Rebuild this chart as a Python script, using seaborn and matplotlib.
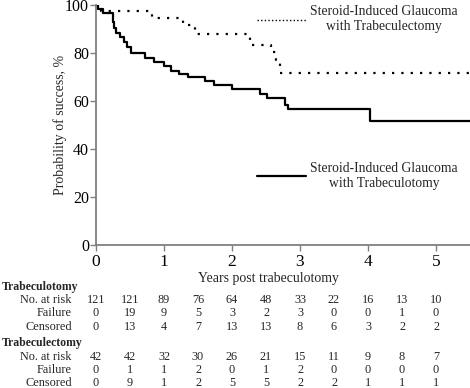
import matplotlib
matplotlib.use("Agg")
import matplotlib.pyplot as plt
import matplotlib.transforms as mtransforms
from matplotlib.lines import Line2D
import seaborn as sns
import pandas as pd

# Kaplan-Meier step curves
otomy_years = [0, 0.03, 0.10, 0.25, 0.27, 0.30, 0.36, 0.41, 0.46, 0.52, 0.72, 0.85, 1.00, 1.10,
               1.22, 1.36, 1.60, 1.74, 2.00, 2.41, 2.51, 2.78, 2.82, 4.03, 5.50]
otomy_success = [100, 98.3, 96.8, 93.0, 90.5, 88.5, 86.8, 84.5, 82.5, 80.0, 77.8, 76.4, 74.5, 72.6,
                 71.3, 70.1, 68.2, 66.7, 64.8, 62.8, 61.1, 58.3, 56.5, 51.8, 51.8]

ectomy_years = [0, 0.08, 0.82, 1.28, 1.45, 2.26, 2.57, 2.65, 2.71, 5.50]
ectomy_success = [100, 97.6, 94.5, 91.5, 88.0, 83.3, 80.5, 77.0, 71.5, 71.5]

# numbers-at-risk table
table_times = [0, 0.5, 1, 1.5, 2, 2.5, 3, 3.5, 4, 4.5, 5]
otomy_risk = [121, 121, 89, 76, 64, 48, 33, 22, 16, 13, 10]
otomy_fail = [0, 19, 9, 5, 3, 2, 3, 0, 0, 1, 0]
otomy_cens = [0, 13, 4, 7, 13, 13, 8, 6, 3, 2, 2]
ectomy_risk = [42, 42, 32, 30, 26, 21, 15, 11, 9, 8, 7]
ectomy_fail = [0, 1, 1, 2, 0, 1, 2, 0, 0, 0, 0]
ectomy_cens = [0, 9, 1, 2, 5, 5, 2, 2, 1, 1, 1]

otomy_label = "Steroid-Induced Glaucoma\nwith Trabeculotomy"
ectomy_label = "Steroid-Induced Glaucoma\nwith Trabeculectomy"

sns.set_style("ticks")
plt.rcParams['font.family'] = ['Liberation Serif', 'DejaVu Serif']

fig = plt.figure(figsize=(4.7, 3.88), dpi=100)
ax = fig.add_axes([96 / 470, 143 / 388, 374 / 470, 240 / 388])

df_otomy = pd.DataFrame({"t": otomy_years, "s": otomy_success})
df_ectomy = pd.DataFrame({"t": ectomy_years, "s": ectomy_success})

sns.lineplot(data=df_otomy, x="t", y="s", ax=ax, color="black", lw=1.6,
             drawstyle="steps-post", estimator=None)
sns.lineplot(data=df_ectomy, x="t", y="s", ax=ax, color="black", lw=1.6,
             linestyle=(0, (1, 3.2)), drawstyle="steps-post", estimator=None)

ax.set_xlim(0, 5.5)
ax.set_ylim(0, 100)
ax.set_xticks([0, 1, 2, 3, 4, 5])
ax.set_yticks([0, 20, 40, 60, 80, 100])
sns.despine(ax=ax)
for sp in ["left", "bottom"]:
    ax.spines[sp].set_color("#808080")
    ax.spines[sp].set_linewidth(1.3)
ax.tick_params(axis="both", colors="#808080", length=4, width=1)
ax.tick_params(axis="x", labelsize=12.5, labelcolor="black", pad=2.5)
ax.tick_params(axis="y", labelsize=11.5, labelcolor="black", pad=1)

ax.set_xlabel("Years post trabeculotomy", fontsize=10)
ax.xaxis.set_label_coords(0.461, -0.112)
ax.set_ylabel("Probability of success, %", fontsize=10)
ax.yaxis.set_label_coords(-0.078, 0.5)

# legends placed inside the plot
h_ect = Line2D([], [], color="black", lw=1.0, linestyle=(0, (1, 1.6)))
leg1 = ax.legend([h_ect], [ectomy_label], loc="center left", bbox_to_anchor=(0.397, 0.94),
                 frameon=False, handlelength=3.6, handletextpad=0.35, fontsize=9.8)
for t in leg1.get_texts():
    t.set_multialignment("center")
ax.add_artist(leg1)
h_oto = Line2D([], [], color="black", lw=1.6)
leg2 = ax.legend([h_oto], [otomy_label], loc="center left", bbox_to_anchor=(0.397, 0.2875),
                 frameon=False, handlelength=3.6, handletextpad=0.35, fontsize=9.8)
for t in leg2.get_texts():
    t.set_multialignment("center")

# at-risk table under the plot
trans = mtransforms.blended_transform_factory(ax.transData, fig.transFigure)
rows = [
    ("No. at risk", otomy_risk, 300), ("Failure", otomy_fail, 313), ("Censored", otomy_cens, 327),
    ("No. at risk", ectomy_risk, 357), ("Failure", ectomy_fail, 370), ("Censored", ectomy_cens, 383),
]
fig.text(2 / 470, 1 - 287 / 388, "Trabeculotomy", fontsize=8.5, fontweight="bold", va="center")
fig.text(2 / 470, 1 - 343 / 388, "Trabeculectomy", fontsize=8.5, fontweight="bold", va="center")
for name, vals, ypx in rows:
    fig.text(72 / 470, 1 - ypx / 388, name, fontsize=8.8, ha="right", va="center")
    for tt, v in zip(table_times, vals):
        ax.text(tt, 1 - ypx / 388, str(v), transform=trans, fontsize=8.8,
                ha="center", va="center", clip_on=False)

fig.savefig("out.png", dpi=100)
